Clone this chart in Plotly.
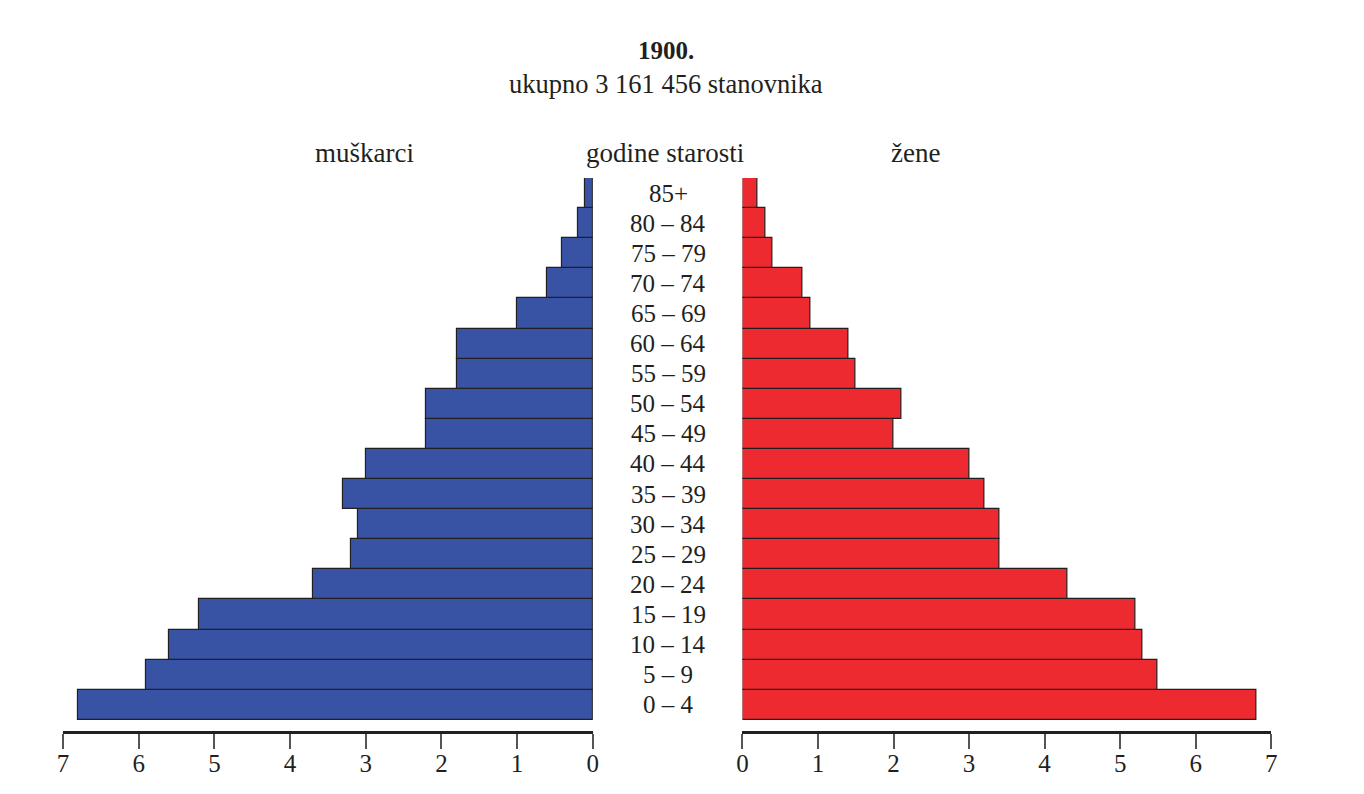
import plotly.graph_objects as go

# age groups, bottom to top
ages = ["0 – 4", "5 – 9", "10 – 14", "15 – 19", "20 – 24", "25 – 29", "30 – 34",
        "35 – 39", "40 – 44", "45 – 49", "50 – 54", "55 – 59", "60 – 64",
        "65 – 69", "70 – 74", "75 – 79", "80 – 84", "85+"]

# share of population (%)
men = [6.8, 5.9, 5.6, 5.2, 3.7, 3.2, 3.1, 3.3, 3.0, 2.2, 2.2, 1.8, 1.8,
       1.0, 0.6, 0.4, 0.2, 0.1]
women = [6.8, 5.5, 5.3, 5.2, 4.3, 3.4, 3.4, 3.2, 3.0, 2.0, 2.1, 1.5, 1.4,
         0.9, 0.8, 0.4, 0.3, 0.2]

ticks = [0, 1, 2, 3, 4, 5, 6, 7]

FONT = "Liberation Serif"
TXT = "#231f20"

# the page body has an 8px margin, so the figure is drawn a bit smaller
OFF = 8
W, H = 1364 - 2 * OFF, 794 - 2 * OFF
TOP, BOTTOM = 178 - OFF, 731 - OFF  # plot area in figure px


def px(x):
    return (x - OFF) / W


fig = go.Figure()

fig.add_trace(go.Bar(
    x=men, y=ages, orientation="h", xaxis="x", yaxis="y",
    marker=dict(color="#3953a4", line=dict(color="#231f20", width=1.2)),
    name="muškarci", showlegend=False,
))
fig.add_trace(go.Bar(
    x=women, y=ages, orientation="h", xaxis="x2", yaxis="y2",
    marker=dict(color="#ed2a2f", line=dict(color="#231f20", width=1.2)),
    name="žene", showlegend=False,
))

xaxis_common = dict(
    tickvals=ticks, ticktext=[str(t) for t in ticks],
    showgrid=False, zeroline=False, showline=True, linecolor="#231f20",
    linewidth=2.5, ticks="outside", ticklen=15, tickwidth=1.5,
    tickcolor="#555555", tickfont=dict(family=FONT, size=25, color=TXT),
    ticklabelstandoff=-7, fixedrange=True,
)
yaxis_common = dict(
    type="category", categoryorder="array", categoryarray=ages,
    range=[-0.87, 17.5], showticklabels=False, showgrid=False,
    zeroline=False, showline=False, ticks="",
)

fig.update_layout(
    width=W, height=H,
    margin=dict(l=0, r=0, t=TOP, b=H - BOTTOM),
    paper_bgcolor="white", plot_bgcolor="white",
    bargap=0,
    font=dict(family=FONT, color=TXT),
    xaxis=dict(domain=[px(57.5), px(592)], range=[7, 0], **xaxis_common),
    xaxis2=dict(domain=[px(743), px(1276.5)], range=[0, 7], **xaxis_common),
    yaxis=dict(anchor="x", **yaxis_common),
    yaxis2=dict(anchor="x2", **yaxis_common),
)

# age labels in the middle
for a in ages:
    fig.add_annotation(x=px(668), xref="paper", y=a, yref="y", text=a,
                       showarrow=False, xanchor="center",
                       font=dict(family=FONT, size=25, color=TXT))

heads = [
    (666, 50, "<b>1900.</b>", 25),
    (666, 84, "ukupno 3 161 456 stanovnika", 26.5),
    (362, 153, "muškarci", 27),
    (665, 153, "godine starosti", 27),
    (918, 153, "žene", 27),
]
for hx, hy, t, s in heads:
    # paper y is relative to the plot area
    yp = (BOTTOM - (hy - OFF)) / (BOTTOM - TOP)
    fig.add_annotation(x=px(hx), y=yp, xref="paper", yref="paper",
                       yanchor="middle", xanchor="center", text=t, showarrow=False,
                       font=dict(family=FONT, size=s, color=TXT))

fig.write_html("out.html")
